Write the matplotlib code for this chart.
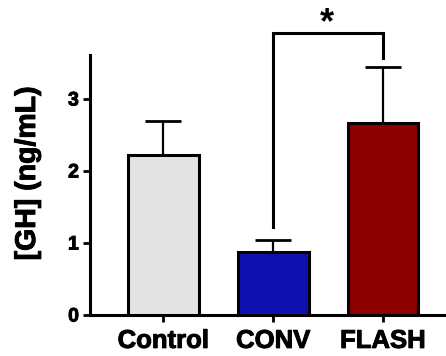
import matplotlib
matplotlib.use("Agg")
import matplotlib.pyplot as plt
import matplotlib.patheffects as pe

categories = ["Control", "CONV", "FLASH"]
means = [2.22, 0.87, 2.66]
errors = [0.48, 0.17, 0.78]
colors = ["#e4e4e4", "#1010b0", "#8b0000"]
yticks = [0, 1, 2, 3]
ylabel = "[GH] (ng/mL)"
sig_pair = (1, 2)
sig_text = "*"
sig_y = 3.91
sig_leg_bottom = (1.22, 3.57)

plt.rcParams['font.family'] = ['Liberation Sans', 'DejaVu Sans']
plt.rcParams['font.weight'] = 'bold'
heavy = [pe.withStroke(linewidth=0.7, foreground='black')]

fig = plt.figure(figsize=(4.46, 3.56), dpi=100)
ax = fig.add_axes([0.2018, 0.1152, 0.7982, 0.7303])

x = list(range(len(categories)))
ax.bar(x, means, width=0.645, color=colors, edgecolor='black', linewidth=2.2, zorder=3)
ax.errorbar(x, means, yerr=[[0] * len(errors), errors], fmt='none', ecolor='black',
            elinewidth=1.6, capsize=13, capthick=2.0, zorder=2)

ax.set_xlim(-0.668, 2.573)
ax.set_ylim(0, 3.61)
ax.set_yticks(yticks)
ax.set_yticklabels([str(t) for t in yticks], fontsize=14, fontweight='bold')
ax.set_xticks(x)
ax.set_xticklabels(categories, fontsize=18.5, fontweight='bold')
for lab in ax.get_xticklabels() + ax.get_yticklabels():
    lab.set_path_effects(heavy)

for s in ['top', 'right']:
    ax.spines[s].set_visible(False)
for s in ['left', 'bottom']:
    ax.spines[s].set_linewidth(2.2)
ax.tick_params(axis='both', width=2.0, length=5)
ax.tick_params(axis='y', pad=3)
ax.tick_params(axis='x', pad=5)

fig.text(28 / 446, 0.5126, ylabel, rotation=90, ha='center', va='center',
         fontsize=20.5, fontweight='bold', path_effects=heavy)

i, j = sig_pair
ax.plot([i, i, j, j], [sig_leg_bottom[0], sig_y, sig_y, sig_leg_bottom[1]],
        color='black', linewidth=2.2, clip_on=False, solid_joinstyle='miter')
ax.text((i + j) / 2 - 0.014, 3.92, sig_text, ha='center', va='baseline',
        fontsize=26, fontweight='bold', clip_on=False)

fig.savefig("out.png", dpi=100)
